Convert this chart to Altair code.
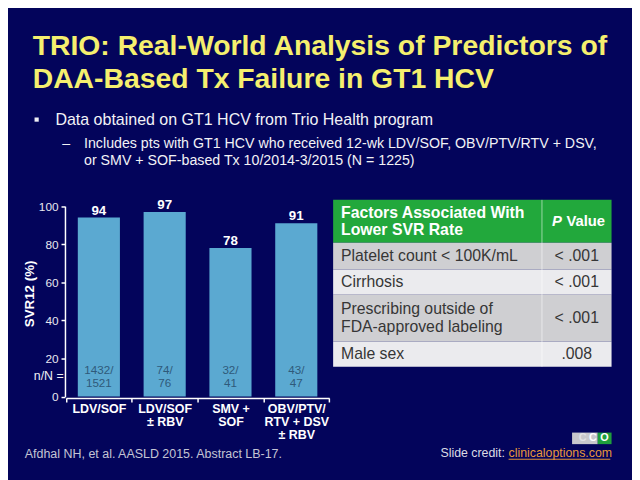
import altair as alt
import pandas as pd

# ---------------- data ----------------
categories = ["LDV/SOF", "LDV/SOF|± RBV", "SMV +|SOF", "OBV/PTV/|RTV + DSV|± RBV"]
svr12 = [94, 97, 78, 91]
n_of_N = ["1432/\n1521", "74/\n76", "32/\n41", "43/\n47"]
y_ticks = [0, 20, 40, 60, 80, 100]

header_left = "Factors Associated With\nLower SVR Rate"
table_factors = ["Platelet count < 100K/mL", "Cirrhosis",
                 "Prescribing outside of\nFDA-approved labeling", "Male sex"]
table_p = ["< .001", "< .001", "< .001", ".008"]
row_units = [1.7, 1.05, 1.0, 1.85, 1.0]          # header + 4 rows (relative heights)
row_fills = ["#22a83c", "#cfcfd2", "#ebebee", "#cfcfd2", "#ebebee"]

title_text = "TRIO: Real-World Analysis of Predictors of\nDAA-Based Tx Failure in GT1 HCV"
bullet_text = "Data obtained on GT1 HCV from Trio Health program"
sub_text = ("Includes pts with GT1 HCV who received 12-wk LDV/SOF, OBV/PTV/RTV + DSV,\n"
            "or SMV + SOF-based Tx 10/2014-3/2015 (N = 1225)")
source_text = "Afdhal NH, et al. AASLD 2015. Abstract LB-17."
credit_text = "Slide credit:"
credit_link = "clinicaloptions.com"

F = "Liberation Sans"
BG = "#03045b"

# ---------------- bar chart ----------------
bars_df = pd.DataFrame({"cat": categories, "svr": svr12, "nN": n_of_N})

xs = alt.Scale(domain=categories, range=[58.7, 325.3], paddingInner=0, paddingOuter=0)
ys = alt.Scale(domain=[0, 100], range=[390.5, 197.7], nice=False)

x_axis = alt.Axis(orient="bottom", offset=-80, tickBand="extent", tickSize=4,
                  tickColor="white", tickWidth=1.5, domainColor="white", domainWidth=1.5,
                  labelExpr="split(datum.label, '|')", labelAngle=0, labelOverlap=False,
                  labelFont=F, labelFontSize=12.6, labelFontWeight="bold",
                  labelColor="white", labelLineHeight=13, labelPadding=1,
                  labelBaseline="top", title=None)
y_axis = alt.Axis(orient="left", offset=-57.7, values=y_ticks, tickSize=4,
                  tickColor="white", tickWidth=1.5, domainColor="white", domainWidth=1.5,
                  labelFont=F, labelFontSize=12, labelColor="#e8e8f0", labelPadding=3,
                  grid=False, title="SVR12 (%)", titleFont=F, titleFontSize=13.5,
                  titleFontWeight="bold", titleColor="white", titleAngle=270,
                  titleX=-36, titleY=286, titleAlign="center", titleBaseline="middle")

X = alt.X("cat:N", scale=xs, axis=x_axis, sort=None)
Y = alt.Y("svr:Q", scale=ys, axis=y_axis)

bars = alt.Chart(bars_df).mark_bar(color="#5ba9d1", width=alt.RelativeBandSize(0.64)).encode(
    x=X, y=Y)
bar_vals = alt.Chart(bars_df).mark_text(font=F, fontSize=13.5, fontWeight="bold",
                                        color="white", baseline="alphabetic", dy=-3).encode(
    x=X, y=Y, text="svr:Q")
bar_nN = alt.Chart(bars_df).mark_text(font=F, fontSize=11.8, color="#2f5a7a",
                                      lineBreak="\n", lineHeight=13.3, dy=-6.65,
                                      baseline="middle").encode(
    x=X, y=alt.YDatum(10.4, type="quantitative"), text="nN:N")

bar_layer = alt.layer(bars, bar_vals, bar_nN)

# ---------------- table ----------------
cum = [0]
for u in row_units:
    cum.append(cum[-1] + u)
total = cum[-1]
rows_df = pd.DataFrame({"y0": cum[:-1], "y1": cum[1:], "fill": row_fills})
rows_df["ymid"] = (rows_df["y0"] + rows_df["y1"]) / 2
body_df = rows_df.iloc[1:].copy()
body_df["factor"] = table_factors
body_df["p"] = table_p
head_df = rows_df.iloc[:1].copy()
head_df["h"] = [header_left]

tx = alt.Scale(domain=[0, 4], range=[329.3, 611.3], nice=False, zero=False)
ty = alt.Scale(domain=[0, total], range=[191.3, 360.3], nice=False, zero=False)

TX0 = alt.XDatum(0, type="quantitative", scale=tx, axis=None)
rects = alt.Chart(rows_df).mark_rect().encode(
    x=TX0, x2=alt.X2Datum(4),
    y=alt.Y("y0:Q", scale=ty, axis=None), y2="y1:Q",
    color=alt.Color("fill:N", scale=None))
divider = alt.Chart(head_df).mark_rule(color="white", strokeOpacity=0.55, strokeWidth=1).encode(
    x=alt.XDatum(3, type="quantitative"),
    y=alt.YDatum(0, type="quantitative"), y2=alt.Y2Datum(total))

body_style = dict(font=F, fontSize=16, color="#363636", baseline="middle")
body_left1 = alt.Chart(body_df).transform_filter(
    "indexof(datum.factor, '\\n') < 0"
).mark_text(align="left", dx=8, **body_style).encode(
    x=alt.XDatum(0, type="quantitative"), y="ymid:Q", text="factor:N")
body_left2 = alt.Chart(body_df).transform_filter(
    "indexof(datum.factor, '\\n') >= 0"
).mark_text(align="left", dx=8, lineBreak="\n", lineHeight=18.3, dy=-9.15,
            **body_style).encode(
    x=alt.XDatum(0, type="quantitative"), y="ymid:Q", text="factor:N")
body_right = alt.Chart(body_df).mark_text(align="center", **body_style).encode(
    x=alt.XDatum(3.5, type="quantitative"), y="ymid:Q", text="p:N")
head_text = alt.Chart(head_df).mark_text(font=F, fontSize=16, fontWeight="bold", color="white",
                                         align="left", dx=8, baseline="middle",
                                         lineBreak="\n", lineHeight=16.7, dy=-8.35).encode(
    x=alt.XDatum(0, type="quantitative"), y="ymid:Q", text="h:N")
head_P = alt.Chart(head_df).mark_text(font=F, fontSize=15, fontWeight="bold",
                                      fontStyle="italic", color="white", align="right",
                                      dx=-15, baseline="middle").encode(
    x=alt.XDatum(3.5, type="quantitative"), y="ymid:Q", text=alt.value("P"))
head_V = alt.Chart(head_df).mark_text(font=F, fontSize=15, fontWeight="bold", color="white",
                                      align="left", dx=-10.5, baseline="middle").encode(
    x=alt.XDatum(3.5, type="quantitative"), y="ymid:Q", text=alt.value("Value"))

table_layer = alt.layer(rects, divider, body_left1, body_left2, body_right,
                        head_text, head_P, head_V)

# ---------------- slide text ----------------
def txt(s, x, y, **kw):
    return alt.Chart(pd.DataFrame({"t": [s]})).mark_text(font=F, lineBreak="\n", **kw).encode(
        x=alt.value(x), y=alt.value(y), text="t:N")

one = pd.DataFrame({"a": [0]})
title = txt(title_text, 25, 45, fontSize=28.7, fontWeight="bold", color="#f5ef6e",
            align="left", baseline="alphabetic", lineHeight=33)
bullet_sq = alt.Chart(one).mark_square(size=18, color="#eeeef4", opacity=1).encode(
    x=alt.value(29), y=alt.value(110))
bullet = txt(bullet_text, 48, 115, fontSize=16.2, color="#f2f2f6", align="left",
             baseline="alphabetic")
dash = txt("–", 55, 139, fontSize=14.4, color="#f2f2f6", align="left", baseline="alphabetic")
sub = txt(sub_text, 77, 139, fontSize=14.4, color="#f2f2f6", align="left",
          baseline="alphabetic", lineHeight=16.5)
nN_lab = txt("n/N =", 56.3, 370, fontSize=12.5, color="#f0f0f4", align="right",
             baseline="middle")
source = txt(source_text, 17, 453, fontSize=12.6, color="#c4c4d4", align="left",
             baseline="alphabetic")
credit = txt(credit_text, 438, 452, fontSize=12.5, color="#dcdce4", align="left",
             baseline="alphabetic")
link = txt(credit_link, 507, 452, fontSize=12.5, color="#e8983a", align="left",
           baseline="alphabetic")
underline = alt.Chart(one).mark_rule(color="#e8983a", strokeWidth=1).encode(
    x=alt.value(507), x2=alt.value(610), y=alt.value(454))
logo_gray = alt.Chart(one).mark_rect(color="#c8c8cc").encode(
    x=alt.value(571.3), x2=alt.value(597.3), y=alt.value(427), y2=alt.value(438.7))
logo_green = alt.Chart(one).mark_rect(color="#1f9e3c").encode(
    x=alt.value(597.3), x2=alt.value(611.3), y=alt.value(427), y2=alt.value(438.7))
logo_c1 = txt("C", 582, 433, fontSize=11, fontWeight="bold", color="#e2e2e4",
              align="center", baseline="middle")
logo_c2 = txt("C", 592.3, 433, fontSize=11, fontWeight="bold", color="white",
              align="center", baseline="middle")
logo_o = txt("O", 604, 433, fontSize=11, fontWeight="bold", color="white",
             align="center", baseline="middle")

deco_layer = alt.layer(title, bullet_sq, bullet, dash, sub, nN_lab, source, credit, link,
                       underline, logo_gray, logo_green, logo_c1, logo_c2, logo_o)

chart = alt.layer(bar_layer, table_layer, deco_layer).resolve_scale(
    x="independent", y="independent"
).properties(
    width=632, height=472, padding=0,
    autosize=alt.AutoSizeParams(type="none"), background=BG
).configure_view(stroke="transparent")

chart.save("out.html", embed_options={"renderer": "svg", "actions": False})
